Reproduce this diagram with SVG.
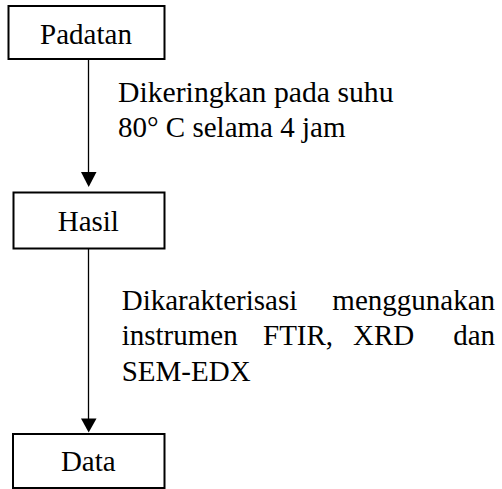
<svg xmlns="http://www.w3.org/2000/svg" width="502" height="489" viewBox="0 0 502 489">
<style>
.box{fill:#fff;stroke:#000;stroke-width:2}
.t{font-family:"Liberation Serif","Times New Roman",serif;font-size:29px;fill:#000}
.c{text-anchor:middle}
.e{text-anchor:end}
.ln{stroke:#000;stroke-width:1.3;fill:none}
.ah{fill:#000;stroke:none}
</style>
<rect width="502" height="489" fill="#fff"/>
<g id="connectors">
<line class="ln" x1="88.5" y1="60" x2="88.5" y2="173"/>
<polygon class="ah" points="81,172 96.5,172 88.7,187"/>
<line class="ln" x1="88.5" y1="249" x2="88.5" y2="419"/>
<polygon class="ah" points="81,418.5 96.5,418.5 88.7,432.5"/>
<text class="t" x="118" y="102.3" textLength="275.5" lengthAdjust="spacingAndGlyphs">Dikeringkan pada suhu</text>
<text class="t" x="118" y="136.7">80° C selama 4 jam</text>
<text class="t" x="121.7" y="310">Dikarakterisasi</text>
<text class="t e" x="495" y="310">menggunakan</text>
<text class="t" x="121.7" y="345">instrumen</text>
<text class="t" x="263" y="345">FTIR,</text>
<text class="t" x="353" y="345">XRD</text>
<text class="t e" x="495" y="345">dan</text>
<text class="t" x="121.7" y="381">SEM-EDX</text>
</g>
<g id="padatan">
<rect class="box" x="8.5" y="6" width="156" height="53"/>
<text class="t c" x="86" y="44.3">Padatan</text>
</g>
<g id="hasil">
<rect class="box" x="13.5" y="192.5" width="151" height="56"/>
<text class="t c" x="88.3" y="230.7">Hasil</text>
</g>
<g id="data">
<rect class="box" x="13" y="434" width="151.5" height="54"/>
<text class="t c" x="88.3" y="471">Data</text>
</g>
</svg>
